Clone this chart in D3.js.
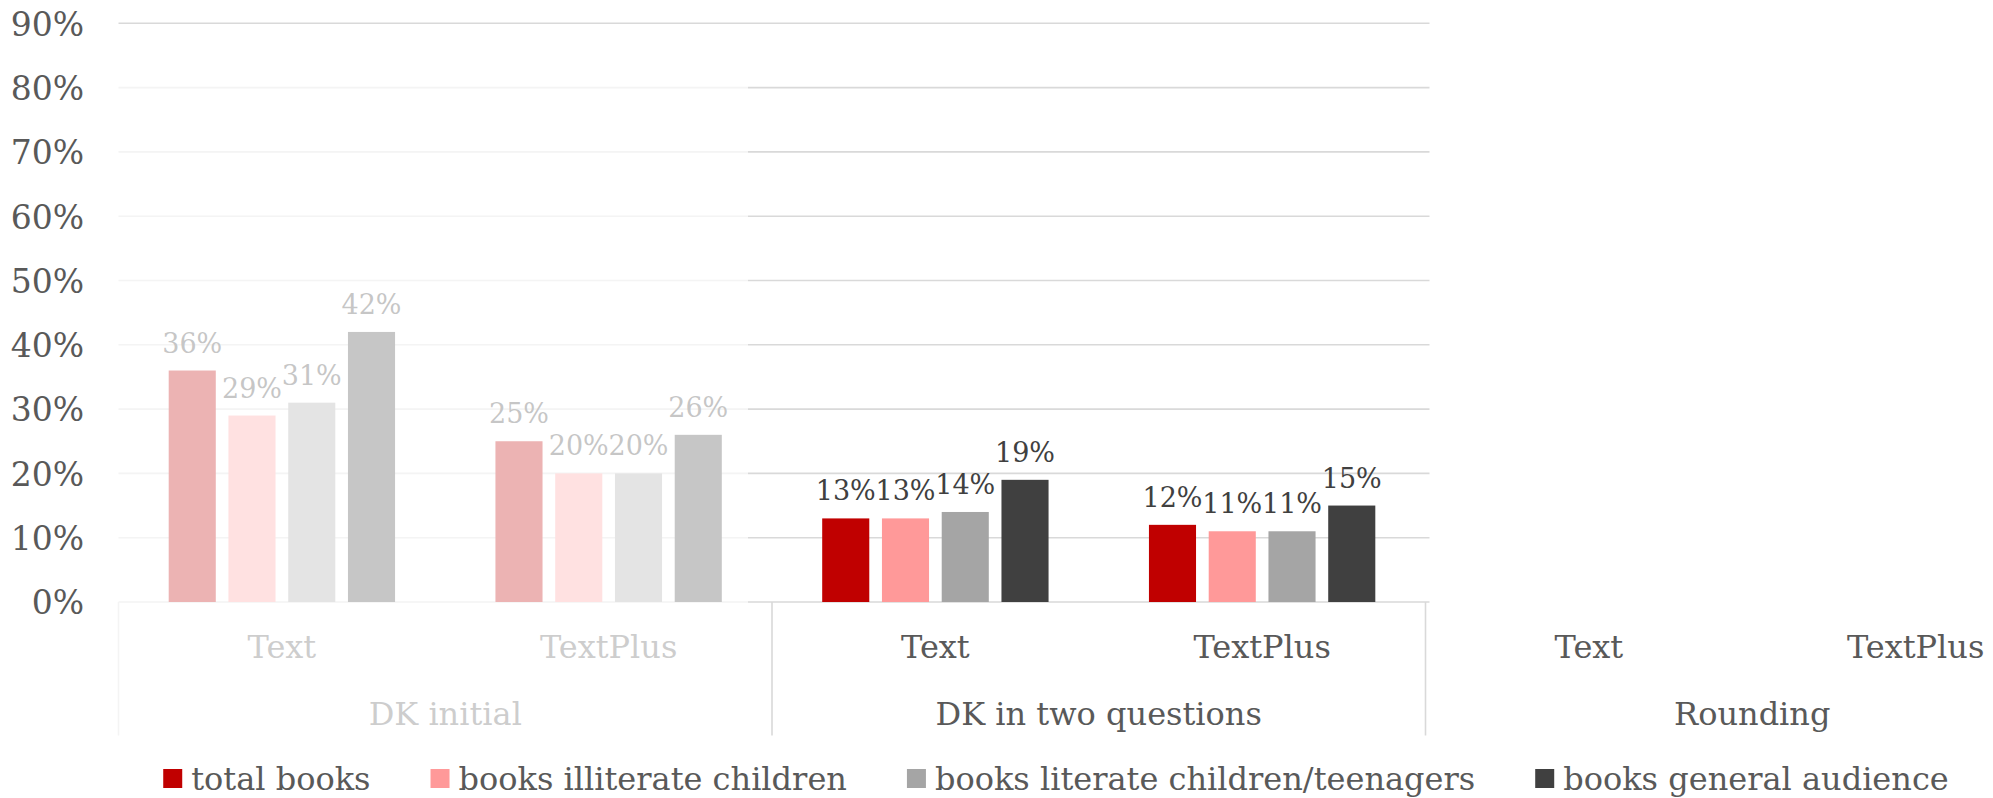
<!DOCTYPE html>
<html>
<head>
<meta charset="utf-8">
<script src="https://cdn.jsdelivr.net/npm/d3@7"></script>
<style>
  html, body { margin: 0; padding: 0; background: #fff; }
  svg { display: block; }
  text { font-family: "DejaVu Serif", Georgia, serif; }
</style>
</head>
<body>
<svg id="chart" width="1993" height="798"></svg>
<script>
// ---- data ----
const groups = ["DK initial", "DK in two questions", "Rounding"];
const subCategories = ["Text", "TextPlus"];
const seriesNames = ["total books", "books illiterate children", "books literate children/teenagers", "books general audience"];
const seriesColors = ["#C00000", "#FF9999", "#A5A5A5", "#404040"];
// values per (group, subcategory): DK initial Text, DK initial TextPlus, DK two Text, DK two TextPlus, Rounding Text, Rounding TextPlus
const totalBooks      = [0.36, 0.25, 0.13, 0.12, null, null];
const illiterateBooks = [0.29, 0.20, 0.13, 0.11, null, null];
const literateBooks   = [0.31, 0.20, 0.14, 0.11, null, null];
const generalBooks    = [0.42, 0.26, 0.19, 0.15, null, null];
const yTicks = [0, 0.1, 0.2, 0.3, 0.4, 0.5, 0.6, 0.7, 0.8, 0.9];
const fadedGroup = "DK initial";

const seriesValues = [totalBooks, illiterateBooks, literateBooks, generalBooks];

// ---- layout ----
const svg = d3.select("#chart");
const plotLeft = 118.5, groupW = 653.5;
const plotTop = 23.3, plotBottom = 602;

const x0 = d3.scaleBand().domain(groups).range([plotLeft, plotLeft + groupW * groups.length]).padding(0);
const x1 = d3.scaleBand().domain(subCategories).range([0, x0.bandwidth()]).padding(0);
const x2 = d3.scaleBand().domain(d3.range(seriesNames.length)).range([0, x1.bandwidth()])
  .paddingInner(0.212).paddingOuter(0.84);
const y = d3.scaleLinear().domain([0, 0.9]).range([plotBottom, plotTop]);

const gridRight = x0(groups[groups.length - 1]) + 4;
const gridColor = "#d9d9d9";
const tickColor = "#595959";

// gridlines
svg.append("g").selectAll("line").data(yTicks).join("line")
  .attr("x1", plotLeft).attr("x2", gridRight)
  .attr("y1", d => y(d)).attr("y2", d => y(d))
  .attr("stroke", gridColor).attr("stroke-width", 1.6);

// y axis labels
const yAxis = d3.axisLeft(y).tickValues(yTicks).tickFormat(d3.format(".0%")).tickSize(0).tickPadding(0);
const ya = svg.append("g").attr("transform", "translate(84,0)").call(yAxis);
ya.select(".domain").remove();
ya.selectAll("text")
  .attr("fill", tickColor).attr("font-size", 33).attr("dy", "0.36em")
  .style("font-family", '"DejaVu Serif", Georgia, serif');

// build flat records
const cells = [];
groups.forEach((g, gi) => subCategories.forEach((s, si) => {
  const idx = gi * subCategories.length + si;
  seriesValues.forEach((arr, k) => {
    if (arr[idx] != null) cells.push({ group: g, sub: s, k, v: arr[idx] });
  });
}));
const bx = d => x0(d.group) + x1(d.sub) + x2(d.k);

// bars
svg.append("g").selectAll("rect").data(cells).join("rect")
  .attr("x", bx).attr("width", x2.bandwidth())
  .attr("y", d => y(d.v)).attr("height", d => y(0) - y(d.v))
  .attr("fill", d => seriesColors[d.k]);

// data labels
svg.append("g").selectAll("text").data(cells).join("text")
  .attr("x", d => bx(d) + x2.bandwidth() / 2)
  .attr("y", d => y(d.v) - 18)
  .attr("text-anchor", "middle")
  .attr("font-size", 27).attr("fill", "#404040")
  .text(d => d3.format(".0%")(d.v));

// group dividers (category axis)
const dividers = groups.map(g => x0(g)).concat([x0(groups[groups.length - 1]) + x0.bandwidth()]);
svg.append("g").selectAll("line").data(dividers).join("line")
  .attr("x1", d => d).attr("x2", d => d)
  .attr("y1", plotBottom).attr("y2", 735.5)
  .attr("stroke", gridColor).attr("stroke-width", 1.6);

// sub-category labels
const subLabels = [];
groups.forEach(g => subCategories.forEach(s => subLabels.push({ g, s })));
svg.append("g").selectAll("text").data(subLabels).join("text")
  .attr("x", d => x0(d.g) + x1(d.s) + x1.bandwidth() / 2)
  .attr("y", plotBottom + 56)
  .attr("text-anchor", "middle").attr("font-size", 32).attr("fill", tickColor)
  .text(d => d.s);

// group labels
svg.append("g").selectAll("text").data(groups).join("text")
  .attr("x", d => x0(d) + x0.bandwidth() / 2)
  .attr("y", plotBottom + 123)
  .attr("text-anchor", "middle").attr("font-size", 32).attr("fill", tickColor)
  .text(d => d);

// fade overlay over the first group
svg.append("rect")
  .attr("x", 100).attr("y", 45)
  .attr("width", x0(fadedGroup) + x0.bandwidth() - 24 - 100)
  .attr("height", 750 - 45)
  .attr("fill", "#fff").attr("fill-opacity", 0.7);

// legend
const legend = svg.append("g");
const items = legend.selectAll("g").data(seriesNames).join("g");
items.append("rect").attr("width", 19).attr("height", 19).attr("y", 769)
  .attr("fill", (d, i) => seriesColors[i]);
items.append("text").attr("x", 28).attr("y", 790)
  .attr("font-size", 32).attr("fill", tickColor).text(d => d);
const widths = [];
items.each(function () { widths.push(this.querySelector("text").getComputedTextLength() + 28); });
const gap = 60;
const total = d3.sum(widths) + gap * (widths.length - 1);
let cx = 1056 - total / 2;
items.attr("transform", (d, i) => {
  const t = `translate(${cx},0)`;
  cx += widths[i] + gap;
  return t;
});
</script>
</body>
</html>
